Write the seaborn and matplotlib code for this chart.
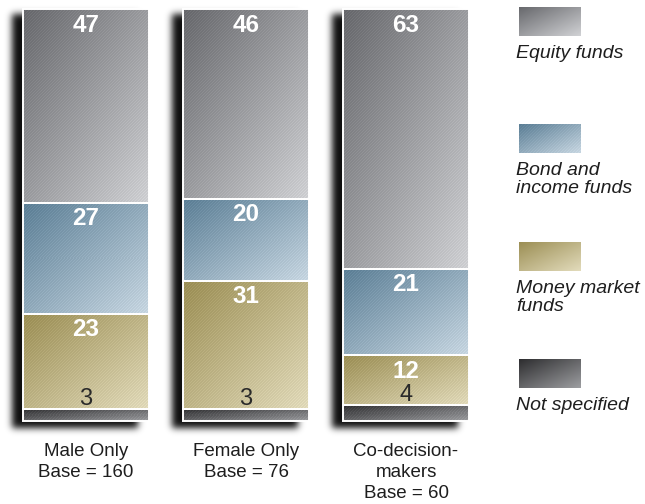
import math
import numpy as np
import matplotlib
matplotlib.use("Agg")
import matplotlib.pyplot as plt
from matplotlib.colors import to_rgb
import seaborn as sns

# ---- data -------------------------------------------------------------
groups = ["Male Only\nBase = 160", "Female Only\nBase = 76", "Co-decision-\nmakers\nBase = 60"]
not_specified = [3, 3, 4]
money_market = [23, 31, 12]
bond_income = [27, 20, 21]
equity = [47, 46, 63]

# stacked bottom -> top
series_names = ["Not specified", "Money market\nfunds", "Bond and\nincome funds", "Equity funds"]
series_values = [not_specified, money_market, bond_income, equity]
# (dark corner, light corner) of each segment's diagonal gradient
series_grad = [("#2e2e30", "#9c9da0"),
               ("#9c8f55", "#e2dbbb"),
               ("#5c7f96", "#c8d7e2"),
               ("#68696d", "#d0d1d4")]

# ---- style --------------------------------------------------------------
sns.set_style("white")
plt.rcParams["font.family"] = ["Liberation Sans", "DejaVu Sans"]

W_PX, H_PX = 645, 504
PX_X = 160.0      # pixels per category step
PX_Y = 4.12       # pixels per percentage point
X0 = 86.0         # pixel column of first category centre
Y0 = 421.0        # pixel row of the zero line


def px2d(px, py):
    return (px - X0) / PX_X, (Y0 - py) / PX_Y


fig = plt.figure(figsize=(W_PX / 100, H_PX / 100), dpi=100)
ax = fig.add_axes([0, 0, 1, 1])

bar_w = 126 / PX_X
bottoms = np.zeros(len(groups))
seg_patches = []
for name, vals, (c0, c1) in zip(series_names, series_values, series_grad):
    n_before = len(ax.patches)
    sns.barplot(x=groups, y=vals, bottom=bottoms.copy(), width=bar_w,
                color=c1, saturation=1, errorbar=None, ax=ax,
                edgecolor="white", linewidth=1.4)
    seg_patches.append(ax.patches[n_before:])
    bottoms += np.array(vals, dtype=float)

ax.set_xlim(px2d(0, 0)[0], px2d(W_PX, 0)[0])
ax.set_ylim(px2d(0, H_PX)[1], px2d(0, 0)[1])
ax.axis("off")


def texture(c0, c1, w_px, h_px, stripes=True, amp=0.04):
    h = max(int(round(h_px)), 2)
    w = max(int(round(w_px)), 2)
    rows, cols = np.mgrid[0:h, 0:w]
    t = (cols / (w - 1) + rows / (h - 1)) / 2
    a = np.array(to_rgb(c0))
    b = np.array(to_rgb(c1))
    img = a + (b - a) * t[..., None]
    if stripes:
        # fine "/" pinstripes, one light line every third pixel diagonal
        line = ((rows + cols) % 3 == 0).astype(float) - 1 / 3
        img = img + amp * line[..., None]
    return np.clip(img, 0, 1)


_erf = np.vectorize(math.erf)


def soft_box(n, lo, hi, sigma):
    c = np.arange(n) + 0.5
    s = math.sqrt(2) * sigma
    return 0.5 * (_erf((c - lo) / s) - _erf((c - hi) / s))


# drop shadows behind the full stacks
for i in range(len(groups)):
    p0 = seg_patches[0][i]
    left, width = p0.get_x(), p0.get_width()
    top = bottoms[i]
    lpx = X0 + left * PX_X
    rpx = lpx + width * PX_X
    tpx = Y0 - top * PX_Y
    bpx = Y0
    m = 30
    gw = int(round(rpx - lpx)) + 2 * m
    gh = int(round(bpx - tpx)) + 2 * m
    fx = soft_box(gw, m - 11, gw - m - 11, 3.5)
    fy = soft_box(gh, m + 5, gh - m + 7, 3.5)
    alpha = np.outer(fy, fx) * 0.95
    img = np.zeros((gh, gw, 4))
    img[..., 3] = alpha
    ex0, ey0 = px2d(lpx - m, bpx + m)
    ex1, ey1 = px2d(lpx - m + gw, bpx + m - gh)
    ax.imshow(img, extent=(ex0, ex1, ey0, ey1), origin="upper",
              aspect="auto", interpolation="bilinear", zorder=1)

# gradient / pinstripe fills for every segment
for patches, (c0, c1) in zip(seg_patches, series_grad):
    for p in patches:
        x, y, w, h = p.get_x(), p.get_y(), p.get_width(), p.get_height()
        img = texture(c0, c1, w * PX_X, h * PX_Y)
        ax.imshow(img, extent=(x, x + w, y, y + h), origin="upper",
                  aspect="auto", interpolation="nearest", zorder=2)
        p.set_facecolor("none")
        p.set_zorder(3)

# value labels: white bold near each segment's top, the small
# "not specified" share in dark type just above its thin segment
for k, (patches, vals) in enumerate(zip(seg_patches, series_values)):
    for p, v in zip(patches, vals):
        cx = p.get_x() + p.get_width() / 2
        seg_top = p.get_y() + p.get_height()
        if k == 0:
            ax.text(cx, seg_top + 3.5 / PX_Y, f"{v}",
                    ha="center", va="baseline", fontsize=17, color="#2a2a2a",
                    zorder=4)
        else:
            ax.text(cx, seg_top - 22.5 / PX_Y, f"{v}",
                    ha="center", va="baseline", fontsize=17.5,
                    fontweight="bold", color="white", zorder=4)

# category labels under the bars
for i, g in enumerate(groups):
    ax.text(i, px2d(0, 443)[1], g, ha="center", va="top", fontsize=13.5,
            color="#1e1e1e", linespacing=1.3)

# legend: swatches with captions, top entry first
legend_tops = [7, 124, 242, 359]
for top, name, (c0, c1) in zip(legend_tops, series_names[::-1], series_grad[::-1]):
    sx0, sy1 = px2d(519, top)
    sx1, sy0 = px2d(581, top + 29)
    img = texture(c0, c1, 62, 29, stripes=(name.startswith("Bond")), amp=0.03)
    ax.imshow(img, extent=(sx0, sx1, sy0, sy1), origin="upper",
              aspect="auto", interpolation="bilinear", zorder=2)
    tx, ty = px2d(516, top + 38)
    ax.text(tx, ty, name, ha="left", va="top", fontsize=14,
            fontstyle="italic", color="#1e1e1e", linespacing=1.1)

fig.savefig("out.png", dpi=100)
